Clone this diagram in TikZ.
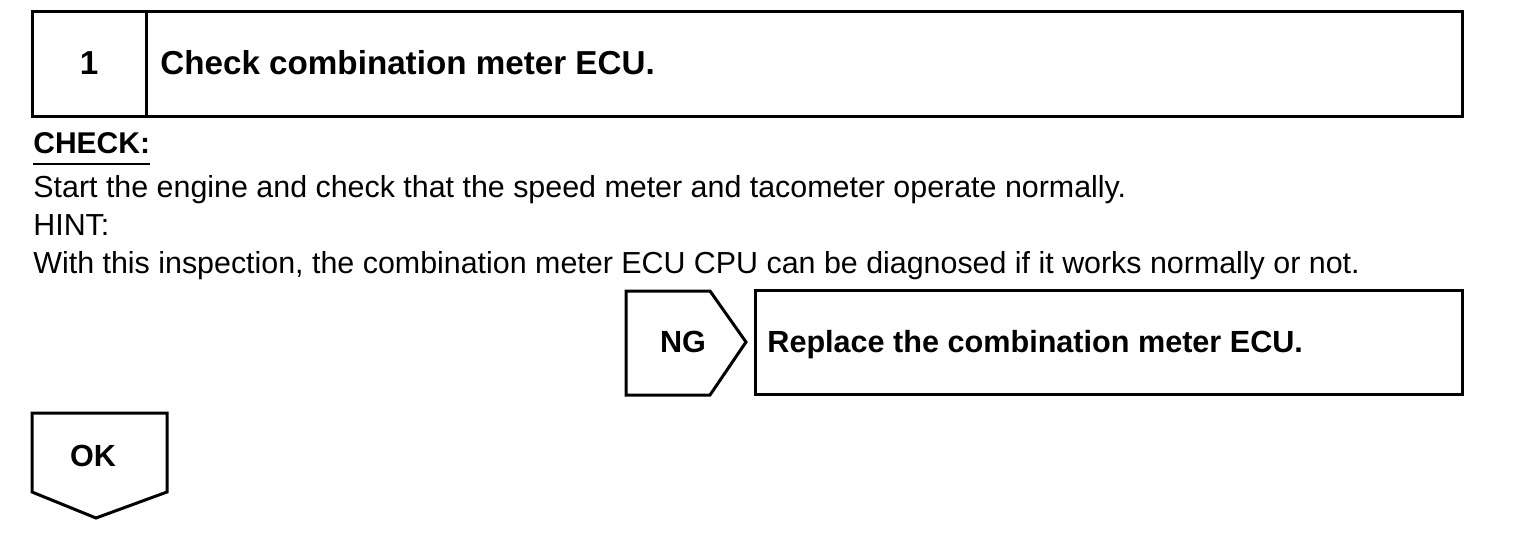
\documentclass[tikz,border=0pt]{standalone}
\usepackage{fontspec}
\setmainfont{Liberation Sans}
\begin{document}
\begin{tikzpicture}[x=0.5pt,y=-0.5pt,
  frame/.style={draw=black,line width=1.5pt,line join=miter},
  txt/.style={inner sep=0pt,anchor=base west,font=\fontsize{15.2}{18}\selectfont},
  btxt/.style={inner sep=0pt,anchor=base,font=\fontsize{15.3}{18}\selectfont\bfseries},
  ttxt/.style={inner sep=0pt,anchor=base,font=\fontsize{16.6}{20}\selectfont\bfseries}]
\useasboundingbox (0,0) rectangle (1520,552);
% step header
\draw[frame] (32,11) rectangle (1462,116);
\draw[frame] (146,11) -- (146,116);
\node[ttxt] (num) at (89,74) {1};
\node[ttxt,anchor=base west] (title) at (160,74) {Check combination meter ECU.};
% check text
\node[btxt,anchor=base west,font=\fontsize{15}{18}\selectfont\bfseries] (check) at (33,153) {CHECK:};
\draw[line width=1.3pt] (check.south west |- 0,164) -- (150,164);
\node[txt] (l1) at (33,197) {Start the engine and check that the speed meter and tacometer operate normally.};
\node[txt] (l2) at (33,235) {HINT:};
\node[txt] (l3) at (33,273) {With this inspection, the combination meter ECU CPU can be diagnosed if it works normally or not.};
% NG branch
\draw[frame] (626,291) -- (710,291) -- (746,342) -- (710,395) -- (626,395) -- cycle;
\node[btxt] (ng) at (683,352) {NG};
\draw[frame] (755,290) rectangle (1462,394);
\node[btxt,anchor=base west] (repl) at (767,352) {Replace the combination meter ECU.};
% OK branch
\draw[frame] (32,413) -- (167,413) -- (167,492) -- (96,518) -- (32,492) -- cycle;
\node[btxt] (ok) at (93,466) {OK};
\end{tikzpicture}
\end{document}
